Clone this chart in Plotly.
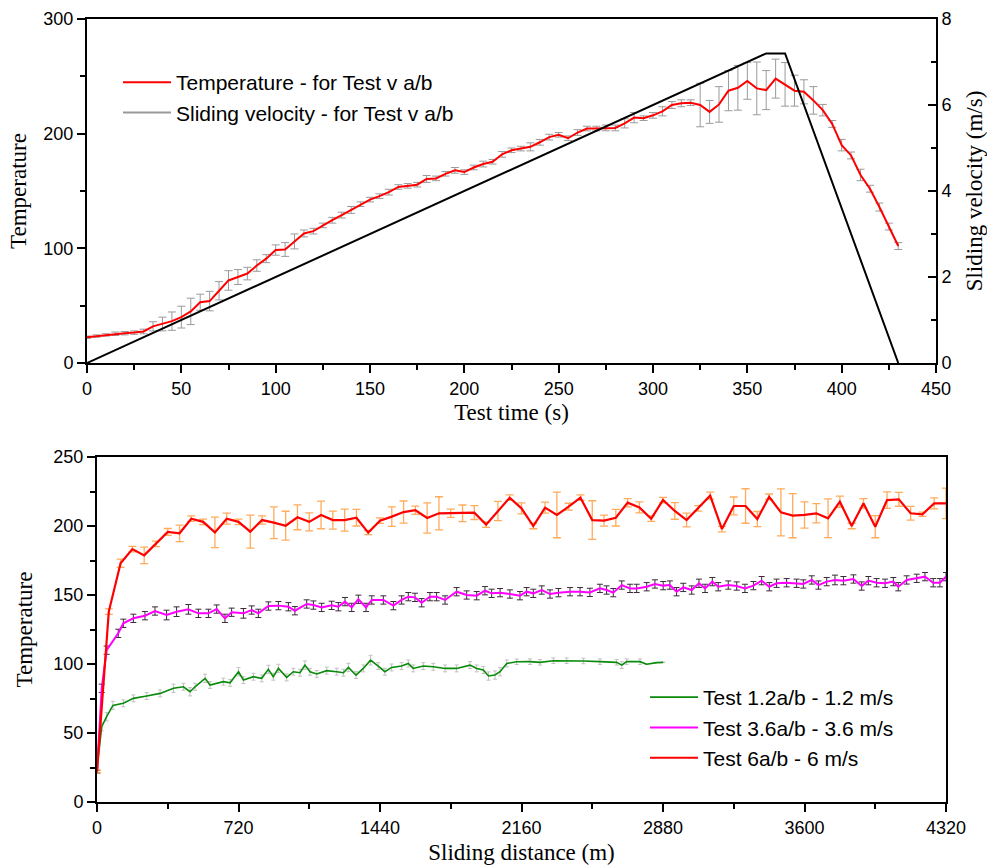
import plotly.graph_objects as go

# ---------------- Top chart data ----------------
test_time = list(range(0, 435, 5))
temp_top = [22.5, 23.5, 24.5, 25.5, 26, 26.5, 27.5, 32, 34, 36.5,
            40, 45, 53, 54, 63, 72, 75, 78, 85, 91,
            98.5, 99, 106, 113, 115, 120, 124.5, 129, 133.5, 138.5,
            142.5, 145.5, 149, 153.5, 154.5, 155.5, 160.5, 161, 165, 168,
            166.5, 170.5, 173.5, 175.5, 182, 185.5, 187, 188.5, 192.5, 197,
            199, 196, 201, 204.5, 204.5, 205, 205, 209, 214, 213.5,
            216, 219.5, 225, 226.5, 227, 225, 219, 225.5, 237.5, 240,
            246, 239.5, 238, 248, 243, 237.5, 236.5, 229, 220.5, 208.5,
            190, 181, 164, 152, 136, 119, 102]
temp_top_err = [1, 1, 1, 1.5, 1.5, 1.5, 2, 4, 6, 8,
                9.5, 11.5, 7, 8.5, 8, 8.5, 6.5, 5.5, 5, 3.5,
                4.5, 6, 6.5, 3, 2.5, 2, 2.5, 2.5, 3, 2,
                2, 2, 2.5, 2, 2, 2, 3, 2, 2, 2.5,
                2, 2, 2.5, 2, 2.5, 2, 2, 3.5, 2.5, 2.5,
                2, 2, 2.5, 2, 2, 2.5, 2.5, 4, 4.5, 2,
                2.5, 4, 3, 3, 2.5, 19, 10, 15.5, 17.5, 19.5,
                16, 23, 17, 17, 19, 13.5, 10.5, 12, 5, 3,
                5, 3, 5, 3, 3.5, 3, 3]
vel_time = [0, 360, 370, 430]
velocity = [0, 7.2, 7.2, 0]

# ---------------- Bottom chart data ----------------
d_green = [0, 24, 49, 81, 134, 185, 253, 321, 389, 440,
           473, 499, 550, 575, 643, 677, 720, 745, 796, 838,
           872, 897, 923, 965, 999, 1033, 1058, 1084, 1118, 1169,
           1220, 1254, 1279, 1318, 1355, 1392, 1431, 1465, 1499, 1550,
           1584, 1609, 1660, 1711, 1771, 1830, 1898, 1932, 1966, 1992,
           2025, 2051, 2085, 2136, 2203, 2254, 2322, 2390, 2475, 2559,
           2644, 2670, 2695, 2763, 2797, 2848, 2881]
t_green = [23.9, 54.6, 61.8, 70, 71.5, 75.1, 76.8, 78.7, 82.4, 83.5,
           79.9, 83.5, 89.6, 84.8, 87.2, 86.4, 94.4, 88.4, 90.8, 89.6,
           96.1, 90.8, 96.8, 90.3, 94.4, 93.7, 99.2, 94.4, 92.8, 95.2,
           94.4, 93.7, 97.5, 92, 96.8, 102.8, 98.5, 94.4, 97.5, 98.5,
           100.4, 96.8, 98.5, 98, 96.8, 96.8, 99.2, 96.8, 95.6, 91.3,
           92, 94.4, 100.4, 101.6, 101.7, 101.2, 102.4, 102.4, 102.2, 101.7,
           101.2, 99.2, 101.7, 101.7, 99.8, 101, 101.2]
e_green = [1, 3, 3, 3, 2.5, 2.5, 2.5, 2.5, 3, 2.5,
           3, 2.5, 3, 2.5, 2.5, 2.5, 3, 2.5, 2.5, 2.5,
           3, 2.5, 3, 2.5, 2.5, 2.5, 3, 2.5, 2.5, 2.5,
           2.5, 2.5, 3, 2.5, 2.5, 3.5, 2.5, 2.5, 2.5, 2.5,
           2.5, 2.5, 2.5, 2.5, 2.5, 2.5, 2.5, 2.5, 2.5, 3,
           3, 3, 2.5, 2, 2, 2, 2, 2, 2, 2,
           2, 2.5, 2, 2, 0, 0, 0]

d_mag = [0, 24, 49, 108, 134, 185, 244, 295, 354, 405,
         465, 516, 567, 609, 651, 685, 745, 787, 821, 872,
         923, 974, 1007, 1067, 1101, 1143, 1194, 1228, 1262, 1296,
         1330, 1369, 1398, 1457, 1508, 1550, 1584, 1618, 1652, 1694,
         1728, 1771, 1830, 1881, 1932, 1974, 2008, 2051, 2101, 2152,
         2186, 2220, 2263, 2305, 2348, 2407, 2458, 2508, 2559, 2593,
         2627, 2670, 2712, 2746, 2797, 2839, 2881, 2915, 2949, 2983,
         3026, 3063, 3094, 3131, 3161, 3212, 3255, 3297, 3340, 3382,
         3421, 3458, 3509, 3560, 3594, 3637, 3671, 3713, 3755, 3798,
         3849, 3891, 3925, 3967, 4010, 4052, 4077, 4120, 4171, 4213,
         4255, 4289, 4320]
t_mag = [22, 82.4, 110, 122.2, 129.5, 133.1, 135, 138.4, 135.5, 137.9,
         139.6, 136.7, 136.7, 139.8, 133.1, 137.5, 136.7, 139.1, 136.7, 142,
         142.3, 141.5, 138.6, 143.5, 142.7, 141, 142.5, 141.5, 145.2, 141,
         146.9, 141, 146.4, 146.4, 142.3, 146.4, 148.8, 148.3, 144.4, 148.8,
         148.8, 146.4, 152.4, 150, 149.5, 153.1, 151.2, 151.7, 150.7, 149.5,
         152.4, 151.2, 153.6, 150.7, 151.7, 152.4, 152.4, 151.9, 154.8, 153.6,
         151.7, 157.2, 154.8, 154.8, 156, 158, 156.8, 157.2, 152.4, 155.5,
         153.6, 158.5, 154.8, 159.7, 156, 157.2, 156.5, 154.8, 156.8, 160.4,
         156, 158.5, 158.9, 158.5, 158, 160.9, 157.2, 159.7, 160.9, 160.4,
         161.6, 156.5, 160.4, 158.9, 158.5, 159.7, 156, 160.9, 162.1, 163.3,
         158.9, 158.9, 163.3]
e_mag = [1, 3, 3, 3, 3, 3, 3, 3, 3.5, 3.5,
         3.5, 3, 3, 3, 3, 3, 3.5, 3, 3, 3,
         3, 3, 3, 3, 3, 3, 3, 3, 3, 3,
         3, 3, 3, 3, 3, 3, 3, 3, 3, 3,
         3, 3, 3, 3, 3, 3, 3, 3, 3, 3,
         3, 3, 3, 3, 3, 3, 3, 3, 3, 3,
         3, 3, 3, 3, 3, 3, 3, 3, 3, 3,
         3, 3, 3, 3, 3, 3, 3, 3, 3, 3,
         3, 3, 3, 3, 3, 3, 3, 3, 3.5, 3,
         3, 3, 3, 3, 3, 3, 3, 3, 3, 3,
         3, 3, 3]

d_red = list(range(0, 4380, 60))
t_red = [22, 138, 173, 183.3, 178.7, 187, 195.7, 194.7, 205.3, 203,
         195.4, 205.3, 203, 195.9, 204.3, 202.4, 200.2, 206.3, 203, 208,
         204.3, 204.3, 206, 195.2, 203.9, 206.8, 210.1, 211.4, 205.8, 209.2,
         209.2, 209.2, 209.7, 201, 210.9, 220.5, 212.8, 200, 213.3, 208,
         214, 220.5, 204.3, 203.9, 206, 216.9, 213.5, 205.3, 218.8, 210.9,
         204.3, 212.8, 222, 197.8, 214.5, 214.5, 205, 221.2, 209.9, 207.5,
         208, 209.2, 205.6, 217.6, 200, 216.4, 199.5, 218.8, 219.3, 209.2,
         208.5, 216.4, 216.4]
e_red = [1, 2, 3, 2, 6, 2, 2.5, 6, 2, 2,
         11, 4, 2, 12, 3, 11.5, 10.5, 9, 6.5, 10,
         6.5, 8, 6, 1.5, 2, 7, 8, 3, 11, 12,
         3, 6, 5, 2, 7, 2, 4, 2, 4, 16.5,
         2.5, 2, 14, 4, 6, 3, 4, 2, 2, 6,
         5, 2, 2.5, 2, 6.5, 12.5, 5.5, 2, 17, 16,
         9.5, 7, 14, 4, 2, 3.5, 8, 6, 5, 5,
         1.5, 4, 11]

SANS = "Liberation Sans, Arial, sans-serif"
SERIF = "Liberation Serif, Times New Roman, serif"
W, H = 987, 868

fig = go.Figure()

# Top chart
fig.add_trace(go.Scatter(
    x=test_time, y=temp_top, mode="lines", name="Temperature - for Test v a/b",
    line=dict(color="#ff0000", width=2),
    error_y=dict(type="data", array=temp_top_err, color="#9a9a9a", thickness=1, width=4),
    xaxis="x", yaxis="y", legend="legend"))
fig.add_trace(go.Scatter(
    x=vel_time, y=velocity, mode="lines", showlegend=False,
    line=dict(color="#000000", width=2), xaxis="x", yaxis="y2"))
fig.add_trace(go.Scatter(
    x=[None], y=[None], mode="lines", name="Sliding velocity - for Test v a/b",
    line=dict(color="#999999", width=2), xaxis="x", yaxis="y2", legend="legend"))

# Bottom chart
fig.add_trace(go.Scatter(
    x=d_green, y=t_green, mode="lines", name="Test 1.2a/b - 1.2 m/s",
    line=dict(color="#0a8a0a", width=1.6),
    error_y=dict(type="data", array=e_green, color="#c0c0c0", thickness=1, width=2),
    xaxis="x2", yaxis="y3", legend="legend2"))
fig.add_trace(go.Scatter(
    x=d_mag, y=t_mag, mode="lines", name="Test 3.6a/b - 3.6 m/s",
    line=dict(color="#ff00ff", width=2),
    error_y=dict(type="data", array=e_mag, color="#3a2a3a", thickness=1, width=3),
    xaxis="x2", yaxis="y3", legend="legend2"))
fig.add_trace(go.Scatter(
    x=d_red, y=t_red, mode="lines", name="Test 6a/b - 6 m/s",
    line=dict(color="#ff0000", width=2.2),
    error_y=dict(type="data", array=e_red, color="rgba(255,150,50,0.8)", thickness=1.3, width=4),
    xaxis="x2", yaxis="y3", legend="legend2"))

tickfont = dict(family=SANS, size=18, color="black")
titlefont = dict(family=SERIF, size=23, color="black")
axis_common = dict(showgrid=False, zeroline=False, showline=True, linecolor="black",
                   linewidth=2, tickfont=tickfont, tickcolor="black", tickwidth=1.5,
                   automargin=False)

top_x = [87 / W, 936 / W]
top_y = [(H - 363) / H, (H - 19) / H]
bot_x = [97 / W, 946 / W]
bot_y = [(H - 802) / H, (H - 457) / H]

fig.update_layout(
    width=W, height=H,
    margin=dict(l=0, r=0, t=0, b=0),
    paper_bgcolor="white", plot_bgcolor="white",
    xaxis=dict(domain=top_x, anchor="y", range=[0, 450], dtick=50, ticks="outside", ticklen=8,
               minor=dict(dtick=25, ticks="outside", ticklen=5, tickcolor="black", tickwidth=1.5),
               mirror=True, title=dict(text="Test time (s)", font=titlefont, standoff=6),
               **axis_common),
    xaxis3=dict(overlaying="x", anchor="y", side="top", range=[0, 450], dtick=25,
                ticks="inside", ticklen=6, tickcolor="black", tickwidth=1.5,
                showticklabels=False, showgrid=False, zeroline=False, showline=False),
    yaxis=dict(domain=top_y, anchor="x", range=[0, 300], dtick=100, ticks="outside", ticklen=8,
               minor=dict(dtick=50, ticks="outside", ticklen=5, tickcolor="black", tickwidth=1.5),
               title=dict(text="Temperature", font=titlefont, standoff=10),
               **axis_common),
    yaxis2=dict(overlaying="y", anchor="x", side="right", range=[0, 8], dtick=2,
                ticks="inside", ticklen=8,
                minor=dict(dtick=1, ticks="inside", ticklen=5, tickcolor="black", tickwidth=1.5),
                title=dict(text="Sliding velocity (m/s)", font=titlefont, standoff=17),
                **axis_common),
    xaxis2=dict(domain=bot_x, anchor="y3", range=[0, 4320], dtick=720, ticks="outside", ticklen=8,
                minor=dict(dtick=360, ticks="outside", ticklen=5, tickcolor="black", tickwidth=1.5),
                mirror=True, title=dict(text="Sliding distance (m)", font=titlefont, standoff=7),
                **axis_common),
    yaxis3=dict(domain=bot_y, anchor="x2", range=[0, 250], dtick=50, ticks="outside", ticklen=8,
                minor=dict(dtick=25, ticks="outside", ticklen=5, tickcolor="black", tickwidth=1.5),
                mirror=True, title=dict(text="Temperature", font=titlefont, standoff=14),
                **axis_common),
    legend=dict(x=118 / W, y=(H - 62) / H, xanchor="left", yanchor="top",
                font=dict(family=SANS, size=21, color="black"), bgcolor="rgba(0,0,0,0)",
                tracegroupgap=0, itemwidth=48),
    legend2=dict(x=645 / W, y=(H - 677) / H, xanchor="left", yanchor="top",
                 font=dict(family=SANS, size=21, color="black"), bgcolor="rgba(0,0,0,0)",
                 tracegroupgap=0, itemwidth=48),
)

fig.write_html("out.html")
